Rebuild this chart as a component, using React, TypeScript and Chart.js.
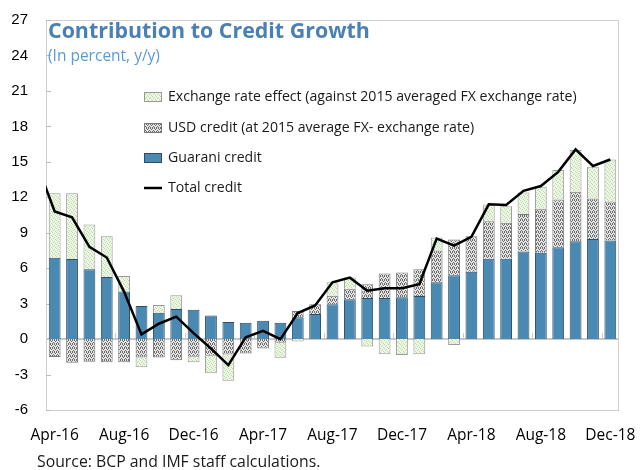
import React, { useEffect, useRef } from "react";
import { Chart, registerables } from "chart.js";
Chart.register(...registerables);

const months = [
  "Apr-16", "May-16", "Jun-16", "Jul-16", "Aug-16", "Sep-16", "Oct-16", "Nov-16", "Dec-16",
  "Jan-17", "Feb-17", "Mar-17", "Apr-17", "May-17", "Jun-17", "Jul-17", "Aug-17", "Sep-17",
  "Oct-17", "Nov-17", "Dec-17", "Jan-18", "Feb-18", "Mar-18", "Apr-18", "May-18", "Jun-18",
  "Jul-18", "Aug-18", "Sep-18", "Oct-18", "Nov-18", "Dec-18",
];

const guarani = [
  6.88, 6.77, 5.92, 5.25, 4.03, 2.79, 2.23, 2.54, 2.48, 2.0, 1.44, 1.38, 1.55, 1.38, 1.84, 2.12, 2.94,
  3.38, 3.47, 3.47, 3.53, 3.64, 4.82, 5.41, 5.69, 6.79, 6.79, 7.42, 7.3, 7.78, 8.27, 8.46, 8.35,
];

const usd = [
  -1.52, -2.0, -1.92, -1.97, -1.97, -1.55, -1.55, -1.78, -1.5, -1.41, -1.3, -1.21, -0.79, -0.3, 0.53,
  0.82, 0.72, 0.88, 1.16, 2.09, 2.11, 2.28, 2.67, 3.02, 3.02, 3.19, 3.05, 3.16, 3.72, 4.04, 4.19, 3.44, 3.3,
];

const exch = [
  5.45, 5.58, 3.78, 3.46, 1.3, -0.84, 0.65, 1.18, -0.47, -1.49, -2.23, 0, 0, -1.27, -0.2, 0, 1.14,
  0.96, -0.63, -1.29, -1.35, -1.29, 1.11, -0.5, 0, 1.4, 1.4, 1.83, 1.87, 2.48, 3.53, 2.68, 3.55,
];

// Total credit line; it starts one month earlier (Mar-16), cut off at the left edge of the plot
const prevMonth = "Mar-16";
const total = [
  14.7, 10.8, 10.3, 7.8, 6.9, 4.0, 0.4, 1.3, 1.9, 0.5, -0.8, -2.2, 0.15, 0.7, 0.0, 2.2, 2.85, 4.8,
  5.2, 4.1, 4.3, 4.3, 4.65, 8.5, 7.9, 8.65, 11.4, 11.35, 12.55, 12.95, 14.15, 16.05, 14.65, 15.2,
];

const yMin = -6;
const yMax = 27;
const yStep = 3;

const titleText = "Contribution to Credit Growth";
const subtitleText = "(In percent, y/y)";
const sourceText = "Source: BCP and IMF staff calculations.";
const legendLabels = [
  "Exchange rate effect (against 2015 averaged FX exchange rate)",
  "USD credit (at 2015 average FX- exchange rate)",
  "Guarani credit",
  "Total credit",
];

function makePattern(bg: string, fg: string, dots: number[][]): CanvasPattern | string {
  const c = document.createElement("canvas");
  c.width = 4;
  c.height = 4;
  const g = c.getContext("2d");
  if (!g) return bg;
  g.fillStyle = bg;
  g.fillRect(0, 0, 4, 4);
  g.fillStyle = fg;
  dots.forEach(([x, y]) => g.fillRect(x, y, 1, 1));
  const p = g.createPattern(c, "repeat");
  return p || bg;
}

export default function App() {
  const ref = useRef<HTMLCanvasElement | null>(null);

  useEffect(() => {
    document.body.style.margin = "0";
    const canvas = ref.current;
    if (!canvas) return;

    const greenPat = makePattern("#eef6e6", "#bcd8a8", [[0, 0], [2, 1], [1, 2], [3, 3]]);
    const grayPat = makePattern("#e4e4e4", "#6a6a6a", [[0, 0], [3, 1], [1, 2], [2, 3], [2, 0], [0, 3]]);
    const blue = "#4a89b2";

    const allLabels = [prevMonth, ...months];
    const pad = (arr: number[]) => [null, ...arr];

    const decor = {
      id: "decor",
      beforeDatasetsDraw(chart: any) {
        const { ctx, chartArea: a, scales } = chart;
        const y0 = scales.y.getPixelForValue(0);
        ctx.save();
        ctx.strokeStyle = "#cfcfcf";
        ctx.lineWidth = 1;
        ctx.strokeRect(a.left + 0.5, a.top + 0.5, a.right - a.left - 1, a.bottom - a.top);
        ctx.strokeStyle = "#bdbdbd";
        for (let v = yMin; v <= yMax; v += yStep) {
          const py = Math.round(scales.y.getPixelForValue(v)) + 0.5;
          ctx.beginPath();
          ctx.moveTo(a.left, py);
          ctx.lineTo(a.left + 5, py);
          ctx.stroke();
        }
        ctx.strokeStyle = "#c8c8c8";
        ctx.lineWidth = 2;
        ctx.beginPath();
        ctx.moveTo(a.left, y0);
        ctx.lineTo(a.right, y0);
        ctx.stroke();
        ctx.lineWidth = 1;
        const xs = scales.x;
        for (let i = 5; i < allLabels.length; i += 4) {
          const px = Math.round((xs.getPixelForValue(i) + xs.getPixelForValue(i - 1)) / 2) + 0.5;
          ctx.beginPath();
          ctx.moveTo(px, y0);
          ctx.lineTo(px, y0 - 6);
          ctx.stroke();
        }
        ctx.restore();
      },
      afterDraw(chart: any) {
        const { ctx, chartArea: a } = chart;
        ctx.save();
        ctx.textBaseline = "middle";
        ctx.textAlign = "left";
        ctx.fillStyle = "#4a80b4";
        ctx.font = "bold 21.4px 'Open Sans'";
        ctx.fillText(titleText, a.left + 2, 32);
        ctx.fillStyle = "#5b9bd5";
        ctx.font = "15.5px 'Open Sans'";
        ctx.fillText(subtitleText, a.left + 2, 57);

        const lx = 144;
        const rows = [97, 128, 158, 188];
        const fills = [greenPat, grayPat, blue];
        const strokes = ["#9a9a9a", "#7a7a7a", "#2c4d63"];
        ctx.font = "14.1px 'Open Sans'";
        rows.forEach((ry, i) => {
          if (i < 3) {
            ctx.fillStyle = fills[i] as any;
            ctx.fillRect(lx, ry - 5, 18, 10);
            ctx.strokeStyle = strokes[i];
            ctx.lineWidth = 1;
            ctx.strokeRect(lx + 0.5, ry - 4.5, 17, 9);
          } else {
            ctx.strokeStyle = "#000";
            ctx.lineWidth = 2.5;
            ctx.beginPath();
            ctx.moveTo(lx, ry);
            ctx.lineTo(lx + 18, ry);
            ctx.stroke();
          }
          ctx.fillStyle = "#1a1a1a";
          ctx.fillText(legendLabels[i], lx + 24, ry);
        });

        ctx.fillStyle = "#1a1a1a";
        ctx.font = "15.8px 'Open Sans'";
        ctx.fillText(sourceText, 37, 462);
        ctx.restore();
      },
    };

    const chart = new Chart(canvas, {
      type: "bar",
      data: {
        labels: allLabels,
        datasets: [
          {
            label: legendLabels[2],
            data: pad(guarani) as any,
            backgroundColor: blue,
            borderColor: "#2c4d63",
            borderWidth: 1,
            stack: "s",
            order: 2,
          },
          {
            label: legendLabels[1],
            data: pad(usd) as any,
            backgroundColor: grayPat as any,
            borderColor: "#7a7a7a",
            borderWidth: 1,
            stack: "s",
            order: 2,
          },
          {
            label: legendLabels[0],
            data: pad(exch) as any,
            backgroundColor: greenPat as any,
            borderColor: "#9a9a9a",
            borderWidth: 1,
            stack: "s",
            order: 2,
          },
          {
            type: "line",
            label: legendLabels[3],
            data: total,
            borderColor: "#000",
            borderWidth: 2.5,
            pointRadius: 0,
            tension: 0,
            clip: 0,
            order: 1,
          } as any,
        ],
      },
      options: {
        responsive: false,
        animation: false,
        layout: { padding: { left: 0, right: 21, top: 20, bottom: 0 } },
        plugins: { legend: { display: false }, tooltip: { enabled: false }, title: { display: false } },
        datasets: { bar: { categoryPercentage: 1, barPercentage: 0.68 } },
        scales: {
          x: {
            type: "category",
            stacked: true,
            offset: true,
            min: months[0],
            grid: { display: false, drawTicks: false },
            border: { display: false },
            ticks: {
              autoSkip: false,
              maxRotation: 0,
              padding: 16,
              color: "#000",
              font: { family: "'Open Sans'", size: 15.5 },
              callback: (v: any) => ((v - 1) % 4 === 0 ? allLabels[v] : ""),
            },
            afterFit: (axis: any) => {
              axis.height = 60;
              axis.paddingLeft = 0;
              axis.paddingRight = 0;
            },
          },
          y: {
            stacked: true,
            min: yMin,
            max: yMax,
            grid: { display: false, drawTicks: false },
            border: { display: false },
            ticks: {
              stepSize: yStep,
              padding: 18,
              color: "#000",
              font: { family: "'Liberation Sans'", size: 15 },
            },
            afterFit: (axis: any) => {
              axis.width = 46;
              axis.paddingTop = 0;
              axis.paddingBottom = 0;
            },
          },
        },
      },
      plugins: [decor],
    });

    return () => chart.destroy();
  }, []);

  return (
    <div style={{ width: 640, height: 470 }}>
      <canvas ref={ref} width={640} height={470} style={{ display: "block" }} />
    </div>
  );
}
